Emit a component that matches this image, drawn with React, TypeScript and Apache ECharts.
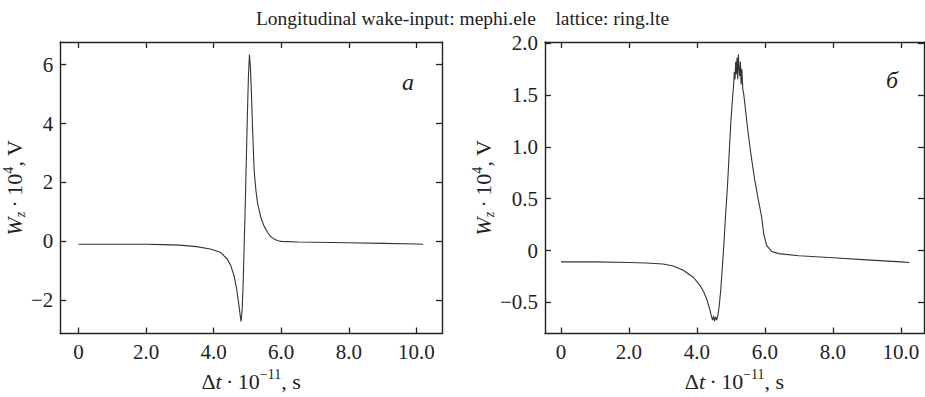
import React, { useEffect, useRef } from "react";
import * as echarts from "echarts";

const TITLE = "Longitudinal wake-input: mephi.ele\u00a0\u00a0\u00a0\u00a0lattice: ring.lte";

const X_TICKS = [0, 2, 4, 6, 8, 10];
const LEFT_Y_TICKS = [-2, 0, 2, 4, 6];
const RIGHT_Y_TICKS = [-0.5, 0, 0.5, 1, 1.5, 2];

const LEFT_X = [0, 1, 2, 2.5, 3, 3.5, 3.9, 4.2, 4.4, 4.5, 4.6, 4.68, 4.74, 4.78, 4.81, 4.84, 4.87, 4.9, 4.93, 4.97, 5.0, 5.03, 5.06, 5.09, 5.12, 5.16, 5.2, 5.25, 5.3, 5.4, 5.5, 5.6, 5.7, 5.8, 5.9, 6.0, 6.5, 7, 8, 9, 10, 10.2];
const LEFT_Y = [-0.1, -0.1, -0.1, -0.11, -0.13, -0.18, -0.26, -0.37, -0.6, -0.8, -1.15, -1.6, -2.1, -2.45, -2.72, -2.4, -1.6, -0.3, 0.9, 2.9, 4.3, 5.6, 6.34, 5.9, 5.0, 3.6, 2.4, 1.75, 1.3, 0.8, 0.5, 0.3, 0.15, 0.07, 0.02, 0.0, -0.02, -0.03, -0.05, -0.07, -0.09, -0.1];

const RIGHT_X = [0, 1, 2, 2.5, 3, 3.3, 3.6, 3.9, 4.1, 4.2, 4.3, 4.38, 4.43, 4.46, 4.49, 4.52, 4.55, 4.58, 4.62, 4.66, 4.7, 4.75, 4.8, 4.85, 4.9, 4.95, 5.0, 5.05, 5.08, 5.1, 5.12, 5.14, 5.16, 5.18, 5.2, 5.22, 5.24, 5.26, 5.28, 5.3, 5.32, 5.35, 5.38, 5.42, 5.5, 5.6, 5.7, 5.8, 5.9, 5.97, 6.05, 6.2, 6.4, 7, 8, 9, 10, 10.25];
const RIGHT_Y = [-0.11, -0.11, -0.115, -0.12, -0.13, -0.15, -0.19, -0.26, -0.34, -0.4, -0.48, -0.57, -0.64, -0.67, -0.63, -0.68, -0.64, -0.67, -0.62, -0.52, -0.38, -0.15, 0.1, 0.38, 0.63, 0.95, 1.25, 1.48, 1.6, 1.72, 1.65, 1.82, 1.7, 1.86, 1.65, 1.89, 1.75, 1.68, 1.82, 1.6, 1.75, 1.55, 1.5, 1.38, 1.15, 0.9, 0.68, 0.5, 0.33, 0.15, 0.05, -0.01, -0.03, -0.05, -0.07, -0.09, -0.11, -0.115];

const FONT = "Liberation Serif";
const INK = "#222";

const minus = (s: string) => s.replace("-", "\u2212");
const fmtX = (v: number) => (v === 0 ? "0" : v.toFixed(1));
const fmtLeftY = (v: number) => minus(String(v));
const fmtRightY = (v: number) => (v === 0 ? "0" : minus(v.toFixed(1)));

const rich = {
  n: { fontFamily: FONT, fontSize: 22, color: INK },
  i: { fontFamily: FONT, fontSize: 22, fontStyle: "italic", color: INK },
  sub: { fontFamily: FONT, fontSize: 14, fontStyle: "italic", color: INK, padding: [11, 0, 0, 0] },
  sup: { fontFamily: FONT, fontSize: 14, color: INK, padding: [0, 0, 13, 0] },
};

const X_NAME = "{n|\u0394}{i|t}{n|\u2009\u00b7\u200910}{sup|\u221211}{n|, s}";
const Y_NAME = "{i|W}{sub|z}{n|\u2009\u00b7\u200910}{sup|4}{n|, V}";

function pairs(xs: number[], ys: number[]) {
  return xs.map((x, k) => [x, ys[k]]);
}

function xAxisCfg(grid: number, min: number, max: number, top: boolean) {
  return {
    type: "value",
    gridIndex: grid,
    position: top ? "top" : "bottom",
    min,
    max,
    splitLine: { show: false },
    axisLine: { show: true, onZero: false, lineStyle: { color: INK, width: 1.4 } },
    axisTick: { show: true, inside: true, length: 6, customValues: X_TICKS, lineStyle: { color: INK, width: 1.3 } },
    axisLabel: {
      show: !top,
      customValues: X_TICKS,
      formatter: fmtX,
      fontFamily: FONT,
      fontSize: 21,
      color: INK,
      margin: 8,
    },
    name: top ? "" : X_NAME,
    nameLocation: "middle",
    nameGap: 34,
    nameTextStyle: { rich },
  };
}

function yAxisCfg(grid: number, min: number, max: number, ticks: number[], fmt: (v: number) => string, right: boolean) {
  return {
    type: "value",
    gridIndex: grid,
    position: right ? "right" : "left",
    min,
    max,
    splitLine: { show: false },
    axisLine: { show: true, onZero: false, lineStyle: { color: INK, width: 1.4 } },
    axisTick: { show: true, inside: true, length: 6, customValues: ticks, lineStyle: { color: INK, width: 1.3 } },
    axisLabel: {
      show: !right,
      customValues: ticks,
      formatter: fmt,
      fontFamily: FONT,
      fontSize: 21,
      color: INK,
      margin: 7,
    },
    name: right ? "" : Y_NAME,
    nameLocation: "middle",
    nameRotate: 90,
    nameGap: 30,
    nameTextStyle: { rich },
  };
}

export default function App() {
  const ref = useRef<HTMLDivElement>(null);
  useEffect(() => {
    if (!ref.current) return;
    const chart = echarts.init(ref.current, null, { renderer: "svg" });
    chart.setOption({
      animation: false,
      backgroundColor: "#fff",
      textStyle: { fontFamily: FONT },
      title: {
        text: TITLE,
        left: "center",
        top: 3,
        textStyle: { fontFamily: FONT, fontSize: 19.5, fontWeight: "normal", color: INK },
      },
      grid: [
        { left: 58, top: 42, width: 384, height: 292 },
        { left: 545, top: 42, width: 379, height: 292 },
      ],
      xAxis: [
        xAxisCfg(0, -0.54, 10.76, false),
        xAxisCfg(0, -0.54, 10.76, true),
        xAxisCfg(1, -0.47, 10.68, false),
        xAxisCfg(1, -0.47, 10.68, true),
      ],
      yAxis: [
        yAxisCfg(0, -3.13, 6.77, LEFT_Y_TICKS, fmtLeftY, false),
        yAxisCfg(0, -3.13, 6.77, LEFT_Y_TICKS, fmtLeftY, true),
        yAxisCfg(1, -0.8, 2.01, RIGHT_Y_TICKS, fmtRightY, false),
        yAxisCfg(1, -0.8, 2.01, RIGHT_Y_TICKS, fmtRightY, true),
      ],
      graphic: [
        {
          type: "text",
          left: 402,
          top: 70,
          style: { text: "\u0430", fontFamily: FONT, fontSize: 24, fontStyle: "italic", fill: INK },
        },
        {
          type: "text",
          left: 886,
          top: 68,
          style: { text: "\u0431", fontFamily: FONT, fontSize: 24, fontStyle: "italic", fill: INK },
        },
      ],
      series: [
        {
          type: "line",
          xAxisIndex: 0,
          yAxisIndex: 0,
          data: pairs(LEFT_X, LEFT_Y),
          showSymbol: false,
          lineStyle: { color: "#333", width: 1.1 },
        },
        {
          type: "line",
          xAxisIndex: 2,
          yAxisIndex: 2,
          data: pairs(RIGHT_X, RIGHT_Y),
          showSymbol: false,
          lineStyle: { color: "#333", width: 1.1 },
        },
      ],
    });
    return () => chart.dispose();
  }, []);
  return <div ref={ref} style={{ position: "absolute", left: 0, top: 0, width: 925, height: 397 }} />;
}
